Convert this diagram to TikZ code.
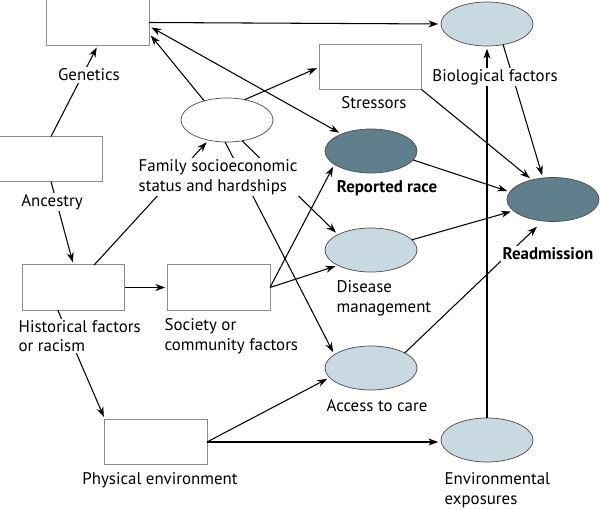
\documentclass[tikz,border=0pt]{standalone}
\usepackage{fontspec}
\setmainfont{PT Sans}
\usetikzlibrary{shapes.geometric, arrows.meta}
\definecolor{boxgray}{HTML}{8C8C8C}
\definecolor{lightfill}{HTML}{C9D9E1}
\definecolor{darkfill}{HTML}{5F7F8C}
\tikzstyle{factor} = [draw=boxgray, line width=0.7pt, minimum width=2.55cm, minimum height=1.125cm, inner sep=0pt, outer sep=0pt]
\tikzstyle{state} = [ellipse, draw=black!70, line width=0.5pt, minimum width=2.3cm, minimum height=1.1cm, inner sep=0pt, outer sep=0pt]
\tikzstyle{light} = [state, fill=lightfill]
\tikzstyle{dark} = [state, fill=darkfill]
\tikzstyle{desc} = [fill=white, inner sep=1pt, align=left, font=\fontsize{12}{14}\selectfont]
\tikzstyle{arrow} = [line width=0.75pt, ->, >={Stealth[length=7pt,width=5pt]}, shorten >=2pt]

\begin{document}
\begin{tikzpicture}[x=0.025cm, y=-0.025cm]
		\useasboundingbox (0,0) rectangle (600,510);

		\node[factor] (gen) at (98,22.5) {};
		\node[factor] (anc) at (51,159) {};
		\node[factor] (hist) at (73.5,287.5) {};
		\node[factor] (soc) at (219,287.5) {};
		\node[factor] (phys) at (156,442) {};
		\node[factor] (str) at (370.5,67) {};

		\node[state, fill=white] (fam) at (227,120) {};
		\node[light] (bio) at (487,24) {};
		\node[dark] (race) at (371,151) {};
		\node[dark] (readm) at (553,199.5) {};
		\node[light] (dis) at (371,250) {};
		\node[light] (acc) at (371,368) {};
		\node[light] (env) at (487,440) {};

		\draw[arrow] (gen.east) -- (bio.west);
		\draw[arrow] (anc.north) -- (gen.south);
		\draw[arrow] (anc.south) -- (hist.north);
		\draw[arrow] (hist) -- (fam);
		\draw[arrow] (hist) -- (soc);
		\draw[arrow] (hist.235) -- (phys.north west);
		\draw[arrow] (fam.140) -- (gen.-12);
		\draw[arrow, <->, shorten <=2pt] (gen.-4) -- (race.150);
		\draw[arrow] (fam.49) -- (str.west);
		\draw[arrow] (fam.-54) -- (dis.155);
		\draw[arrow] (fam.265) -- (acc.160);
		\draw[arrow] (soc.east) -- (race.200);
		\draw[arrow] (soc.east) -- (dis.205);
		\draw[arrow] (phys.east) -- (acc.193);
		\draw[arrow] (phys.east) -- (phys.east -| env.west);
		\draw[arrow] (env.north) -- (bio.south);
		\draw[arrow] (str.south east) -- (readm.137);
		\draw[arrow] (bio.-52) -- (readm.115);
		\draw[arrow] (race.-12) -- (readm.170);
		\draw[arrow] (dis.14) -- (readm.196);
		\draw[arrow, shorten >=6pt] (acc.24) -- (readm.-115);

		\node[desc] (genlbl) at (89,75) {Genetics};
		\node[desc] (anclbl) at (52,202) {Ancestry};
		\node[desc, anchor=west] (famlbl) at (137,177) {Family socioeconomic\\status and hardships};
		\node[desc, anchor=west] (histlbl) at (17,336) {Historical factors\\or racism};
		\node[desc, anchor=west] (soclbl) at (163,336) {Society or\\community factors};
		\node[desc] (physlbl) at (160,480) {Physical environment};
		\node[desc] (strlbl) at (374,103) {Stressors};
		\node[desc] (biolbl) at (495,77) {Biological factors};
		\node[desc, font=\fontsize{12}{14}\selectfont\bfseries] (racelbl) at (387,188) {Reported race};
		\node[desc, font=\fontsize{12}{14}\selectfont\bfseries] (readmlbl) at (548,254) {Readmission};
		\node[desc, anchor=west] (dislbl) at (335,298) {Disease\\management};
		\node[desc] (acclbl) at (377,406) {Access to care};
		\node[desc, anchor=west] (envlbl) at (443,490) {Environmental\\exposures};

	\end{tikzpicture}
\end{document}
